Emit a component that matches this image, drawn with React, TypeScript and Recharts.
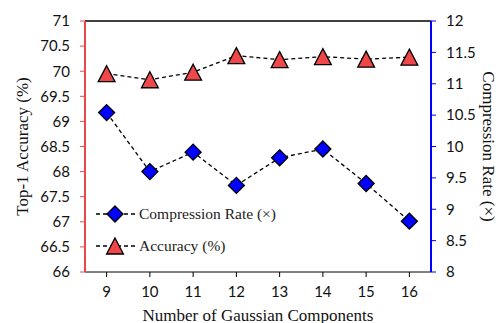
import React from "react";
import { LineChart, Line, XAxis, YAxis, ReferenceLine } from "recharts";

const components = [9, 10, 11, 12, 13, 14, 15, 16];
const accuracy = [69.95, 69.83, 69.98, 70.31, 70.23, 70.29, 70.24, 70.28];
const compressionRate = [10.54, 9.6, 9.91, 9.38, 9.82, 9.96, 9.41, 8.81];
const accuracyTicks = [66, 66.5, 67, 67.5, 68, 68.5, 69, 69.5, 70, 70.5, 71];
const rateTicks = [8, 8.5, 9, 9.5, 10, 10.5, 11, 11.5, 12];

const data = components.map((c, i) => ({
  n: c,
  acc: accuracy[i],
  rate: compressionRate[i],
}));

const RED = "#f04848";
const RED_AXIS = "#e8474c";
const BLUE = "#0000ff";
const tickFont = { fontFamily: "Lato", fontSize: 15, fill: "#111" };
const serif = "'Liberation Serif', 'Times New Roman', serif";
const titleStyle = { fontFamily: serif, fontSize: 17, fill: "#111" };

const Diamond = ({ cx, cy, size = 8 }: any) => (
  <path
    d={`M${cx},${cy - size} L${cx + size},${cy} L${cx},${cy + size} L${cx - size},${cy} Z`}
    fill={BLUE}
    stroke="#000"
    strokeWidth={1.3}
  />
);

const Triangle = ({ cx, cy, size = 8 }: any) => (
  <path
    d={`M${cx},${cy - size} L${cx + size * 1.05},${cy + size} L${cx - size * 1.05},${cy + size} Z`}
    fill={RED}
    stroke="#000"
    strokeWidth={1.3}
  />
);

function LegendBox() {
  const row = (label: string, marker: React.ReactNode) => (
    <div style={{ display: "flex", alignItems: "center", height: 32 }}>
      <svg width={40} height={22}>
        <line x1={0} y1={11} x2={40} y2={11} stroke="#000" strokeDasharray="4 3" strokeWidth={1.3} />
        {marker}
      </svg>
      <span style={{ fontFamily: serif, fontSize: 15.5, color: "#222", marginLeft: 3 }}>{label}</span>
    </div>
  );
  return (
    <div style={{ position: "absolute", left: 96, top: 198 }}>
      {row("Compression Rate (×)", <Diamond cx={19} cy={11} />)}
      {row("Accuracy (%)", <Triangle cx={19} cy={11} />)}
    </div>
  );
}

const LeftTitle = ({ viewBox }: any) => {
  const cy = viewBox.y + viewBox.height / 2;
  return (
    <text x={22} y={cy} transform={`rotate(-90 22 ${cy})`} textAnchor="middle" dominantBaseline="central" style={titleStyle}>
      Top-1 Accuracy (%)
    </text>
  );
};

const RightTitle = ({ viewBox }: any) => {
  const cy = viewBox.y + viewBox.height / 2;
  return (
    <text x={488} y={cy} transform={`rotate(90 488 ${cy})`} textAnchor="middle" dominantBaseline="central" style={titleStyle}>
      Compression Rate (×)
    </text>
  );
};

const BottomTitle = ({ viewBox }: any) => (
  <text x={viewBox.x + viewBox.width / 2} y={320.5} textAnchor="middle" style={titleStyle}>
    Number of Gaussian Components
  </text>
);

export default function App() {
  return (
    <div style={{ position: "absolute", left: 0, top: 0, background: "#fff" }}>
      <LineChart width={498} height={323} data={data} margin={{ top: 21, right: 0, left: 0, bottom: 0 }}>
        <XAxis
          dataKey="n"
          scale="band"
          height={51}
          stroke="#000"
          tick={tickFont}
          tickSize={5}
          tickMargin={9}
          label={<BottomTitle />}
        />
        <YAxis
          yAxisId="left"
          width={85}
          domain={[66, 71]}
          ticks={accuracyTicks}
          interval={0}
          tickFormatter={(v) => String(v)}
          axisLine={{ stroke: RED_AXIS, strokeWidth: 2 }}
          tickLine={{ stroke: RED_AXIS }}
          tick={tickFont}
          tickSize={5}
          tickMargin={10}
          label={<LeftTitle />}
        />
        <YAxis
          yAxisId="right"
          orientation="right"
          width={67}
          domain={[8, 12]}
          ticks={rateTicks}
          interval={0}
          tickFormatter={(v) => String(v)}
          axisLine={{ stroke: BLUE, strokeWidth: 2 }}
          tickLine={{ stroke: BLUE }}
          tick={tickFont}
          tickSize={5}
          tickMargin={10}
          label={<RightTitle />}
        />
        <ReferenceLine yAxisId="left" y={71} stroke="#000" strokeWidth={1.5} />
        <Line
          yAxisId="right"
          dataKey="rate"
          stroke="#000"
          strokeWidth={1.3}
          strokeDasharray="4 3"
          dot={(p: any) => <Diamond key={p.index} cx={p.cx} cy={p.cy} />}
          isAnimationActive={false}
        />
        <Line
          yAxisId="left"
          dataKey="acc"
          stroke="#000"
          strokeWidth={1.3}
          strokeDasharray="4 3"
          dot={(p: any) => <Triangle key={p.index} cx={p.cx} cy={p.cy} />}
          isAnimationActive={false}
        />
      </LineChart>
      <LegendBox />
    </div>
  );
}
